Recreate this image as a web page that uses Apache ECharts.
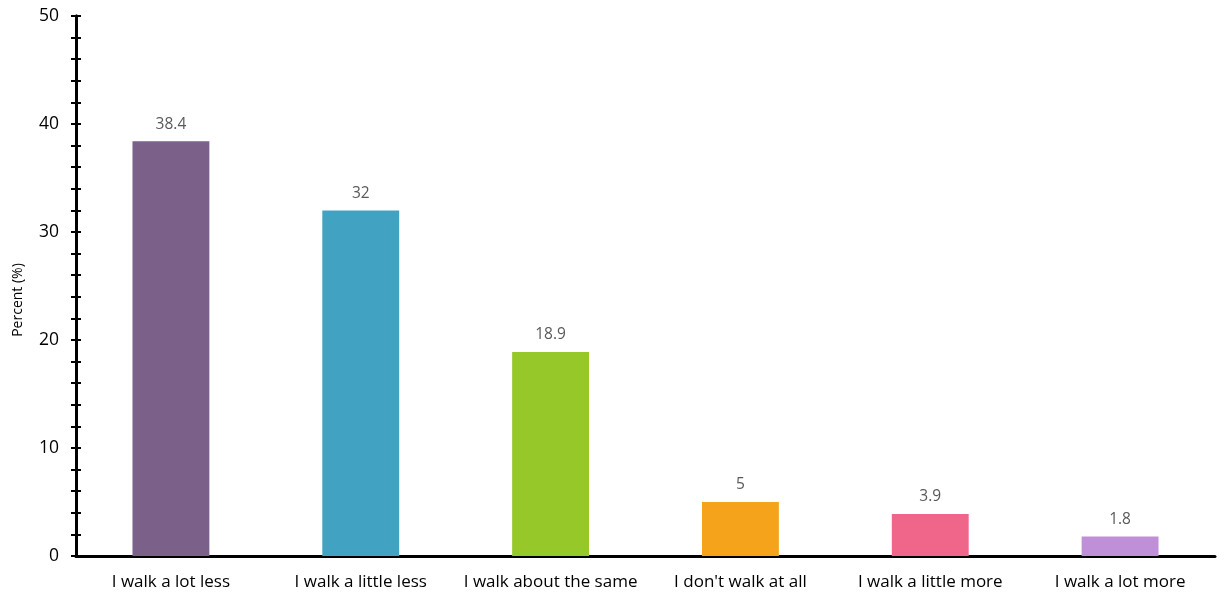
<!DOCTYPE html>
<html><head><meta charset="utf-8">
<script src="https://cdn.jsdelivr.net/npm/echarts@6/dist/echarts.min.js"></script>
<style>html,body{margin:0;padding:0;background:#fff}#c{width:1224px;height:594px}</style>
</head><body><div id="c"></div>
<script>
const categories = ["I walk a lot less","I walk a little less","I walk about the same","I don't walk at all","I walk a little more","I walk a lot more"];
const values = [38.4, 32, 18.9, 5, 3.9, 1.8];
const colors = ["#7B6089","#41A3C1","#97C82A","#F5A31B","#F0668A","#BF90D8"];
const yTicks = [0,10,20,30,40,50];
const yTitle = "Percent (%)";
const FONT = "Open Sans";
const chart = echarts.init(document.getElementById('c'));
const yBase = {
  type:'value', min:yTicks[0], max:yTicks[yTicks.length-1], interval:10,
  splitLine:{show:false},
  axisLine:{show:true, lineStyle:{color:'#000', width:3}},
  minorTick:{show:true, splitNumber:5, length:5, lineStyle:{color:'#000', width:2}},
  axisTick:{show:true, length:5, lineStyle:{color:'#000', width:2}}
};
chart.setOption({
  animation:false,
  grid:{left:76, right:9, top:16, bottom:38},
  graphic:[{type:'text', x:18, y:300, rotation:Math.PI/2,
    style:{text:yTitle, fill:'#000', font:'14px "Open Sans"', align:'center', verticalAlign:'middle'}}],
  xAxis:{type:'category', data:categories,
    axisLine:{lineStyle:{color:'#000', width:3}},
    axisTick:{show:false},
    axisLabel:{interval:0, color:'#000', fontFamily:FONT, fontSize:17, margin:18}},
  yAxis:[
    Object.assign({}, yBase, {
      axisLabel:{color:'#000', fontFamily:FONT, fontSize:17.5, margin:17}}),
    Object.assign({}, yBase, {position:'left', axisLabel:{show:false},
      axisTick:{show:true, inside:true, length:5, lineStyle:{color:'#000', width:2}},
      minorTick:{show:true, splitNumber:5, length:5, lineStyle:{color:'#000', width:2}}})
  ],
  series:[{type:'bar', data:values.map((v,i)=>({value:v, itemStyle:{color:colors[i]}})),
    barWidth:'40.5%',
    label:{show:true, position:'top', distance:9, color:'#595959', fontFamily:FONT, fontSize:15.5}}]
});
</script></body></html>
